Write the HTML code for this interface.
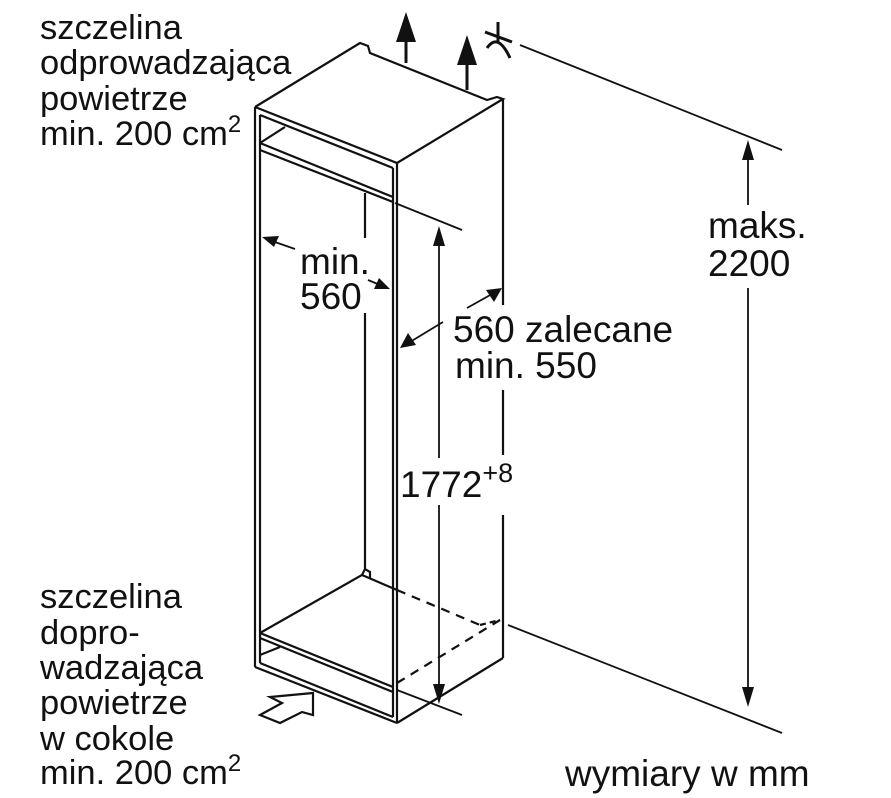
<!DOCTYPE html>
<html><head><meta charset="utf-8"><style>
html,body{margin:0;padding:0;background:#fff;}
svg{display:block}
text{font-family:"Liberation Sans",sans-serif;font-size:37px;fill:#111}
text.l{font-size:34.5px}
</style></head><body>
<svg width="891" height="798" viewBox="0 0 891 798" xmlns="http://www.w3.org/2000/svg">
<g stroke="#111" stroke-width="2.2" fill="none" stroke-linejoin="miter">
<polyline points="255,107 360,43 368,46 370,53 487,100 497,97 503,99 397,163 255,107"/>
<line x1="503" y1="99" x2="503" y2="305"/>
<line x1="503" y1="390" x2="503" y2="455"/>
<line x1="503" y1="515" x2="503" y2="658"/>
<line x1="503" y1="658" x2="397" y2="723"/>
<line x1="255" y1="107" x2="255" y2="667"/>
<line x1="260" y1="115" x2="260" y2="663"/>
<line x1="397" y1="163" x2="397" y2="723"/>
<line x1="393" y1="168" x2="393" y2="717"/>
<line x1="255" y1="667" x2="397" y2="723"/>
<line x1="260" y1="115" x2="393" y2="168"/>
<line x1="260" y1="143" x2="393" y2="197"/>
<line x1="260" y1="150" x2="393" y2="202"/>
<line x1="260" y1="143" x2="285" y2="127"/>
<line x1="365" y1="193" x2="365" y2="238"/>
<line x1="365" y1="313" x2="365" y2="569"/>
<polyline points="260,633 362,575 365,569 370,572 370,578"/>
<line x1="362" y1="575" x2="397" y2="590"/>
<line x1="260" y1="633" x2="393" y2="687"/>
<line x1="260" y1="638" x2="393" y2="692"/>
<line x1="260" y1="663" x2="393" y2="717"/>
<line x1="260" y1="655" x2="280" y2="647"/>
<line x1="397" y1="590" x2="480" y2="625" stroke-dasharray="9,7"/>
<line x1="397" y1="683" x2="500" y2="620" stroke-dasharray="9,7"/>
<line x1="480" y1="625" x2="500" y2="620" stroke-dasharray="6,4"/>
<line x1="395" y1="203" x2="462" y2="230" stroke-width="1.8"/>
<line x1="397" y1="690" x2="462" y2="715" stroke-width="1.8"/>
<line x1="439" y1="240" x2="439" y2="458" stroke-width="1.8"/>
<line x1="439" y1="505" x2="439" y2="690" stroke-width="1.8"/>
<line x1="520" y1="45" x2="782" y2="150" stroke-width="1.8"/>
<line x1="508" y1="625" x2="782" y2="733" stroke-width="1.8"/>
<line x1="748" y1="155" x2="748" y2="205" stroke-width="1.8"/>
<line x1="748" y1="288" x2="748" y2="692" stroke-width="1.8"/>
<line x1="295" y1="249" x2="272" y2="241" stroke-width="1.8"/>
<line x1="368" y1="280" x2="380" y2="285" stroke-width="1.8"/>
<line x1="443" y1="322" x2="410" y2="342" stroke-width="1.8"/>
<line x1="467" y1="308" x2="492" y2="294" stroke-width="1.8"/>
<polygon points="270,697 282,703 260,715 280,723 302,712 313,715 313,693"/>
<line x1="406" y1="40" x2="406" y2="63" stroke-width="3"/>
<line x1="467" y1="62" x2="467" y2="90" stroke-width="3"/>
<line x1="498" y1="22" x2="498" y2="43" stroke-width="3"/>
<line x1="485" y1="32" x2="512" y2="42" stroke-width="3"/>
<path d="M487,48 Q498,32 510,58" stroke-width="3"/>
</g>
<g fill="#111">
<polygon points="406,12 396,42 416,42"/>
<polygon points="467,35 457,65 477,65"/>
<polygon points="439,226 433,246 445,246"/>
<polygon points="439,704 433,684 445,684"/>
<polygon points="748,140 742,160 754,160"/>
<polygon points="748,707 742,687 754,687"/>
<polygon points="262,237 279,236 274,247"/>
<polygon points="390,289 374,289 379,278"/>
<polygon points="400,348 408,333 416,345"/>
<polygon points="502,288 486,290 494,302"/>
</g>
<text class="l" x="40" y="39">szczelina</text>
<text class="l" x="40" y="74">odprowadzająca</text>
<text class="l" x="40" y="110">powietrze</text>
<text class="l" x="40" y="145">min. 200 cm<tspan dy="-13" font-size="24">2</tspan></text>
<text class="l" x="40" y="608">szczelina</text>
<text class="l" x="40" y="644">dopro-</text>
<text class="l" x="40" y="679">wadzająca</text>
<text class="l" x="40" y="714">powietrze</text>
<text class="l" x="40" y="750">w cokole</text>
<text class="l" x="40" y="784">min. 200 cm<tspan dy="-13" font-size="24">2</tspan></text>
<text x="300" y="274">min.</text>
<text x="300" y="309">560</text>
<text x="453" y="342">560 zalecane</text>
<text x="455" y="378">min. 550</text>
<text x="400" y="497">1772<tspan dy="-15" font-size="27">+8</tspan></text>
<text x="708" y="238">maks.</text>
<text x="708" y="276">2200</text>
<text x="565" y="786">wymiary w mm</text>
</svg>
</body></html>
